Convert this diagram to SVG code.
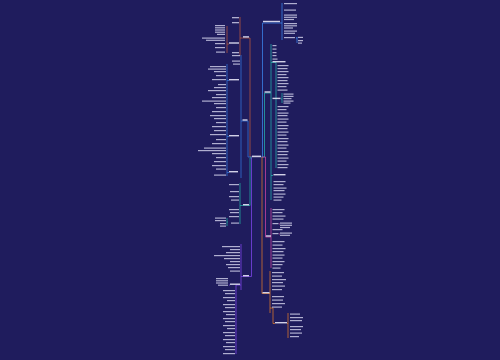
<svg xmlns="http://www.w3.org/2000/svg" width="500" height="360" viewBox="0 0 500 360">
<style>
.t{fill:#d4d4ee;opacity:.8}
.n{fill:#e6e6f6;opacity:.9}
.c{fill:none;stroke-width:.8}
.br{stroke:#b3553f}.bl{stroke:#3272d6}.te{stroke:#22a3a0}.pu{stroke:#7b44e6}
.rb{stroke:#3b82e6}.rt{stroke:#23a9a9}.mg{stroke:#c4429f}.or{stroke:#d4732f}
</style>
<rect width="500" height="360" fill="#1f1c5d"/>
<g id="connectors">
<path class="c br" d="M252,157 H250 V38 H242 M242,38 H240 M240,17 V56 M229,44 H227 M227,26 V53"/>
<path class="c bl" d="M252,157 H248 V121 H242 M242,121 H241 M241,55 V178 M229,80.5 H227 M229,136.5 H227 M229,172.5 H227 M227,64 V176"/>
<path class="c te" d="M252,158 H250 V205.5 H243 M243,205.5 H240 M240,183 V224 M228,222 H227 M227,218 V226"/>
<path class="c pu" d="M252,158 H251.5 V276.5 H243 M243,276.5 H241 M241,244 V290 M241,285 H236 M236,285 V354 M230,285 H229"/>
<path class="c rb" d="M261,157 H262.5 V23 H282 M282,3 V40 M296,38 H297 M297,37 V43"/>
<path class="c rt" d="M262,157 H264.5 V93 H271 M271,44 V200 M271,62.5 H276 M276,62.5 V168 M281,99 H282 M282,93 V103 M271,175.5 H273"/>
<path class="c mg" d="M262,157 H265.5 V237 H271 M271,208 V268 M279,224 H280 M279,234 H280"/>
<path class="c or" d="M262,157 V293.5 H270 M270,271 V313 M270,308 H273 V323.5 H275 M287,323.5 H288 M288,313 V338"/>
</g>
<g id="center"><rect class="n" x="252" y="155.6" width="9" height="1.6"/></g>
<g id="L1"><rect class="n" x="243" y="36.2" width="6" height="1.4"/></g>
<g id="L1a"><rect class="t" x="232" y="17" width="7" height="1.3"/></g>
<g id="L1b"><rect class="t" x="232" y="22" width="7" height="1.3"/></g>
<g id="L1c"><rect class="t" x="232" y="52" width="7" height="1.3"/></g>
<g id="S1"><rect class="n" x="229" y="42.3" width="10" height="1.4"/></g>
<g id="S1a"><rect class="t" x="215" y="25" width="10" height="1.2"/><rect class="t" x="215" y="27.2" width="10" height="1.2"/><rect class="t" x="215" y="29.4" width="10" height="1.2"/><rect class="t" x="215" y="31.6" width="10" height="1.2"/><rect class="t" x="217" y="33.8" width="8" height="1.2"/></g>
<g id="S1b"><rect class="t" x="202" y="37.5" width="23" height="1.2"/><rect class="t" x="206" y="39.7" width="19" height="1.2"/></g>
<g id="S1c"><rect class="t" x="215" y="43" width="10" height="1.2"/></g>
<g id="S1d"><rect class="t" x="215" y="47" width="10" height="1.2"/></g>
<g id="S1e"><rect class="t" x="216" y="51.5" width="9" height="1.2"/></g>
<g id="L2"><rect class="n" x="242.5" y="119.3" width="5" height="1.4"/></g>
<g id="L2a"><rect class="t" x="232" y="55" width="8" height="1.2"/><rect class="t" x="232" y="60.5" width="8" height="1.2"/><rect class="t" x="233" y="63.5" width="7" height="1.2"/></g>
<g id="B1"><rect class="n" x="229" y="79" width="10" height="1.4"/></g>
<g id="B2"><rect class="n" x="229" y="135" width="10" height="1.4"/></g>
<g id="B3"><rect class="n" x="229" y="171" width="9" height="1.4"/></g>
<g id="B1a">
<rect class="t" x="210" y="66" width="16" height="1.2"/><rect class="t" x="208" y="68.5" width="18" height="1.2"/><rect class="t" x="214" y="71" width="12" height="1.2"/>
<rect class="t" x="216" y="75" width="10" height="1.2"/><rect class="t" x="212" y="79" width="14" height="1.2"/><rect class="t" x="218" y="84" width="8" height="1.2"/>
<rect class="t" x="214" y="87" width="12" height="1.2"/><rect class="t" x="208" y="90" width="18" height="1.2"/><rect class="t" x="216" y="94" width="10" height="1.2"/>
<rect class="t" x="212" y="97" width="14" height="1.2"/><rect class="t" x="202" y="100.5" width="24" height="1.2"/><rect class="t" x="214" y="103" width="12" height="1.2"/>
<rect class="t" x="216" y="107" width="10" height="1.2"/><rect class="t" x="212" y="111" width="14" height="1.2"/><rect class="t" x="210" y="115" width="16" height="1.2"/>
<rect class="t" x="214" y="118" width="12" height="1.2"/><rect class="t" x="216" y="122" width="10" height="1.2"/><rect class="t" x="212" y="126" width="14" height="1.2"/>
<rect class="t" x="214" y="130" width="12" height="1.2"/>
</g>
<g id="B2a">
<rect class="t" x="210" y="134" width="16" height="1.2"/><rect class="t" x="216" y="139" width="10" height="1.2"/><rect class="t" x="212" y="143" width="14" height="1.2"/>
<rect class="t" x="204" y="147.5" width="22" height="1.2"/><rect class="t" x="198" y="150" width="28" height="1.2"/><rect class="t" x="212" y="153" width="14" height="1.2"/>
<rect class="t" x="216" y="157" width="10" height="1.2"/><rect class="t" x="214" y="161" width="12" height="1.2"/><rect class="t" x="212" y="165" width="14" height="1.2"/>
<rect class="t" x="216" y="168.5" width="10" height="1.2"/><rect class="t" x="214" y="174.5" width="12" height="1.2"/>
</g>
<g id="L3"><rect class="n" x="243" y="204" width="6" height="1.4"/></g>
<g id="L3a">
<rect class="t" x="229" y="184" width="10" height="1.2"/><rect class="t" x="230" y="191" width="9" height="1.2"/><rect class="t" x="229" y="196" width="10" height="1.2"/>
<rect class="t" x="231" y="199.5" width="8" height="1.2"/><rect class="t" x="229" y="209" width="10" height="1.2"/><rect class="t" x="230" y="212" width="9" height="1.2"/>
<rect class="t" x="229" y="216" width="10" height="1.2"/><rect class="t" x="231" y="222.5" width="8" height="1.2"/>
</g>
<g id="L3b"><rect class="t" x="215" y="217.5" width="11" height="1.2"/><rect class="t" x="215" y="220" width="11" height="1.2"/><rect class="t" x="220" y="223" width="6" height="1.2"/><rect class="t" x="220" y="225.5" width="6" height="1.2"/></g>
<g id="L4"><rect class="n" x="243" y="275" width="6" height="1.4"/></g>
<g id="L4a">
<rect class="t" x="222" y="246" width="18" height="1.2"/><rect class="t" x="230" y="249" width="10" height="1.2"/><rect class="t" x="226" y="252" width="14" height="1.2"/>
<rect class="t" x="214" y="255" width="26" height="1.2"/><rect class="t" x="224" y="258" width="16" height="1.2"/><rect class="t" x="230" y="261" width="10" height="1.2"/>
<rect class="t" x="226" y="264" width="14" height="1.2"/><rect class="t" x="228" y="267" width="12" height="1.2"/><rect class="t" x="230" y="270.5" width="10" height="1.2"/>
</g>
<g id="P1"><rect class="n" x="230" y="283.5" width="10" height="1.4"/></g>
<g id="P1a"><rect class="t" x="216" y="278" width="12" height="1.2"/><rect class="t" x="216" y="280.2" width="12" height="1.2"/><rect class="t" x="216" y="282.4" width="12" height="1.2"/><rect class="t" x="218" y="284.6" width="10" height="1.2"/></g>
<g id="P1b">
<rect class="t" x="223" y="290" width="12" height="1.2"/><rect class="t" x="225" y="293" width="10" height="1.2"/><rect class="t" x="223" y="297" width="12" height="1.2"/>
<rect class="t" x="227" y="300" width="8" height="1.2"/><rect class="t" x="223" y="304" width="12" height="1.2"/><rect class="t" x="225" y="307" width="10" height="1.2"/>
<rect class="t" x="223" y="311" width="12" height="1.2"/><rect class="t" x="226" y="314" width="9" height="1.2"/><rect class="t" x="223" y="318" width="12" height="1.2"/>
<rect class="t" x="225" y="321" width="10" height="1.2"/><rect class="t" x="223" y="325" width="12" height="1.2"/><rect class="t" x="227" y="328" width="8" height="1.2"/>
<rect class="t" x="223" y="332" width="12" height="1.2"/><rect class="t" x="225" y="335" width="10" height="1.2"/><rect class="t" x="223" y="339" width="12" height="1.2"/>
<rect class="t" x="226" y="342" width="9" height="1.2"/><rect class="t" x="223" y="346" width="12" height="1.2"/><rect class="t" x="225" y="349" width="10" height="1.2"/>
<rect class="t" x="223" y="353" width="12" height="1.2"/>
</g>
<g id="R1"><rect class="n" x="263" y="20.8" width="17" height="1.4"/></g>
<g id="R1a">
<rect class="t" x="284" y="3" width="13" height="1.2"/><rect class="t" x="284" y="9.5" width="12" height="1.2"/><rect class="t" x="284" y="14.5" width="13" height="1.2"/>
<rect class="t" x="284" y="16.7" width="13" height="1.2"/><rect class="t" x="284" y="18.9" width="10" height="1.2"/><rect class="t" x="284" y="23" width="13" height="1.2"/>
<rect class="t" x="284" y="25.2" width="13" height="1.2"/><rect class="t" x="284" y="27.4" width="9" height="1.2"/><rect class="t" x="284" y="30.5" width="13" height="1.2"/>
<rect class="t" x="284" y="32.7" width="11" height="1.2"/><rect class="t" x="284" y="37" width="11" height="1.2"/>
</g>
<g id="R1b"><rect class="t" x="298" y="36.8" width="5" height="1.2"/><rect class="t" x="298" y="40" width="5" height="1.2"/><rect class="t" x="298" y="42.5" width="4" height="1.2"/></g>
<g id="R2"><rect class="n" x="264.5" y="91.3" width="6" height="1.4"/></g>
<g id="R2a"><rect class="t" x="272.5" y="45" width="4" height="1.2"/><rect class="t" x="272.5" y="48.5" width="4" height="1.2"/><rect class="t" x="272.5" y="52" width="4" height="1.2"/><rect class="t" x="272.5" y="55" width="4" height="1.2"/><rect class="t" x="272.5" y="58.5" width="5" height="1.2"/></g>
<g id="T1"><rect class="n" x="272.5" y="61" width="13" height="1.4"/></g>
<g id="T1a">
<rect class="t" x="277.5" y="65" width="11" height="1.2"/><rect class="t" x="277.5" y="68" width="10" height="1.2"/><rect class="t" x="277.5" y="71" width="11" height="1.2"/>
<rect class="t" x="277.5" y="74" width="9" height="1.2"/><rect class="t" x="277.5" y="77" width="11" height="1.2"/><rect class="t" x="277.5" y="80" width="10" height="1.2"/>
<rect class="t" x="277.5" y="83" width="11" height="1.2"/><rect class="t" x="277.5" y="86" width="9" height="1.2"/><rect class="t" x="277.5" y="89.5" width="10" height="1.2"/>
</g>
<g id="T2"><rect class="n" x="272.5" y="97.7" width="8" height="1.4"/></g>
<g id="T2a"><rect class="t" x="283.5" y="93.5" width="10" height="1.2"/><rect class="t" x="283.5" y="95.8" width="10" height="1.2"/><rect class="t" x="283.5" y="98" width="8" height="1.2"/><rect class="t" x="283.5" y="100.5" width="10" height="1.2"/><rect class="t" x="283.5" y="102.5" width="7" height="1.2"/></g>
<g id="T1b">
<rect class="t" x="277.5" y="106" width="11" height="1.2"/><rect class="t" x="277.5" y="109" width="9" height="1.2"/><rect class="t" x="277.5" y="112.5" width="11" height="1.2"/>
<rect class="t" x="277.5" y="115" width="10" height="1.2"/><rect class="t" x="277.5" y="118.5" width="11" height="1.2"/><rect class="t" x="277.5" y="121.5" width="9" height="1.2"/>
<rect class="t" x="277.5" y="125" width="11" height="1.2"/><rect class="t" x="277.5" y="128" width="10" height="1.2"/><rect class="t" x="277.5" y="131.5" width="11" height="1.2"/>
<rect class="t" x="277.5" y="134.5" width="9" height="1.2"/><rect class="t" x="277.5" y="138" width="11" height="1.2"/><rect class="t" x="277.5" y="141" width="10" height="1.2"/>
<rect class="t" x="277.5" y="144.5" width="11" height="1.2"/><rect class="t" x="277.5" y="147.5" width="9" height="1.2"/><rect class="t" x="277.5" y="151" width="11" height="1.2"/>
<rect class="t" x="277.5" y="154" width="10" height="1.2"/><rect class="t" x="277.5" y="157.5" width="11" height="1.2"/><rect class="t" x="277.5" y="160.5" width="9" height="1.2"/>
<rect class="t" x="277.5" y="164" width="11" height="1.2"/><rect class="t" x="277.5" y="167" width="10" height="1.2"/>
</g>
<g id="T3"><rect class="n" x="273.5" y="174" width="12" height="1.4"/></g>
<g id="T3a">
<rect class="t" x="273.5" y="181" width="12" height="1.2"/><rect class="t" x="273.5" y="184" width="10" height="1.2"/><rect class="t" x="273.5" y="187.5" width="13" height="1.2"/>
<rect class="t" x="273.5" y="190" width="11" height="1.2"/><rect class="t" x="273.5" y="193.5" width="12" height="1.2"/><rect class="t" x="273.5" y="196.5" width="10" height="1.2"/>
<rect class="t" x="273.5" y="199.5" width="8" height="1.2"/>
</g>
<g id="R3"><rect class="n" x="266" y="235.3" width="5" height="1.4"/></g>
<g id="R3a">
<rect class="t" x="272.5" y="209" width="12" height="1.2"/><rect class="t" x="272.5" y="212" width="10" height="1.2"/><rect class="t" x="272.5" y="215.5" width="13" height="1.2"/>
<rect class="t" x="272.5" y="218.5" width="11" height="1.2"/><rect class="t" x="272.5" y="223" width="6" height="1.2"/><rect class="t" x="272.5" y="229" width="10" height="1.2"/>
<rect class="t" x="272.5" y="233" width="6" height="1.2"/><rect class="t" x="272.5" y="241" width="12" height="1.2"/><rect class="t" x="272.5" y="244.5" width="10" height="1.2"/>
<rect class="t" x="272.5" y="248" width="13" height="1.2"/><rect class="t" x="272.5" y="251" width="11" height="1.2"/><rect class="t" x="272.5" y="254.5" width="12" height="1.2"/>
<rect class="t" x="272.5" y="257.5" width="10" height="1.2"/><rect class="t" x="272.5" y="261" width="12" height="1.2"/><rect class="t" x="272.5" y="264" width="10" height="1.2"/>
<rect class="t" x="272.5" y="267.5" width="8" height="1.2"/>
</g>
<g id="R3b"><rect class="t" x="280" y="222.5" width="12" height="1.2"/><rect class="t" x="280" y="224.7" width="12" height="1.2"/><rect class="t" x="280" y="226.9" width="10" height="1.2"/></g>
<g id="R3c"><rect class="t" x="280" y="232.5" width="12" height="1.2"/><rect class="t" x="280" y="234.7" width="10" height="1.2"/></g>
<g id="R4"><rect class="n" x="262.5" y="292" width="7" height="1.4"/></g>
<g id="R4a">
<rect class="t" x="272" y="272" width="12" height="1.2"/><rect class="t" x="272" y="275.5" width="10" height="1.2"/><rect class="t" x="272" y="279" width="14" height="1.2"/>
<rect class="t" x="272" y="282" width="11" height="1.2"/><rect class="t" x="272" y="285.5" width="13" height="1.2"/><rect class="t" x="272" y="289" width="10" height="1.2"/>
<rect class="t" x="272" y="296" width="12" height="1.2"/><rect class="t" x="272" y="299.5" width="11" height="1.2"/><rect class="t" x="272" y="303" width="13" height="1.2"/>
<rect class="t" x="272" y="306.5" width="10" height="1.2"/>
</g>
<g id="O1"><rect class="n" x="275" y="322" width="12" height="1.4"/></g>
<g id="O1a">
<rect class="t" x="290" y="313.5" width="10" height="1.2"/><rect class="t" x="290" y="317" width="13" height="1.2"/><rect class="t" x="290" y="320" width="12" height="1.2"/>
<rect class="t" x="290" y="326" width="13" height="1.2"/><rect class="t" x="290" y="329" width="11" height="1.2"/><rect class="t" x="290" y="332.5" width="12" height="1.2"/>
<rect class="t" x="290" y="336" width="9" height="1.2"/>
</g>
</svg>
